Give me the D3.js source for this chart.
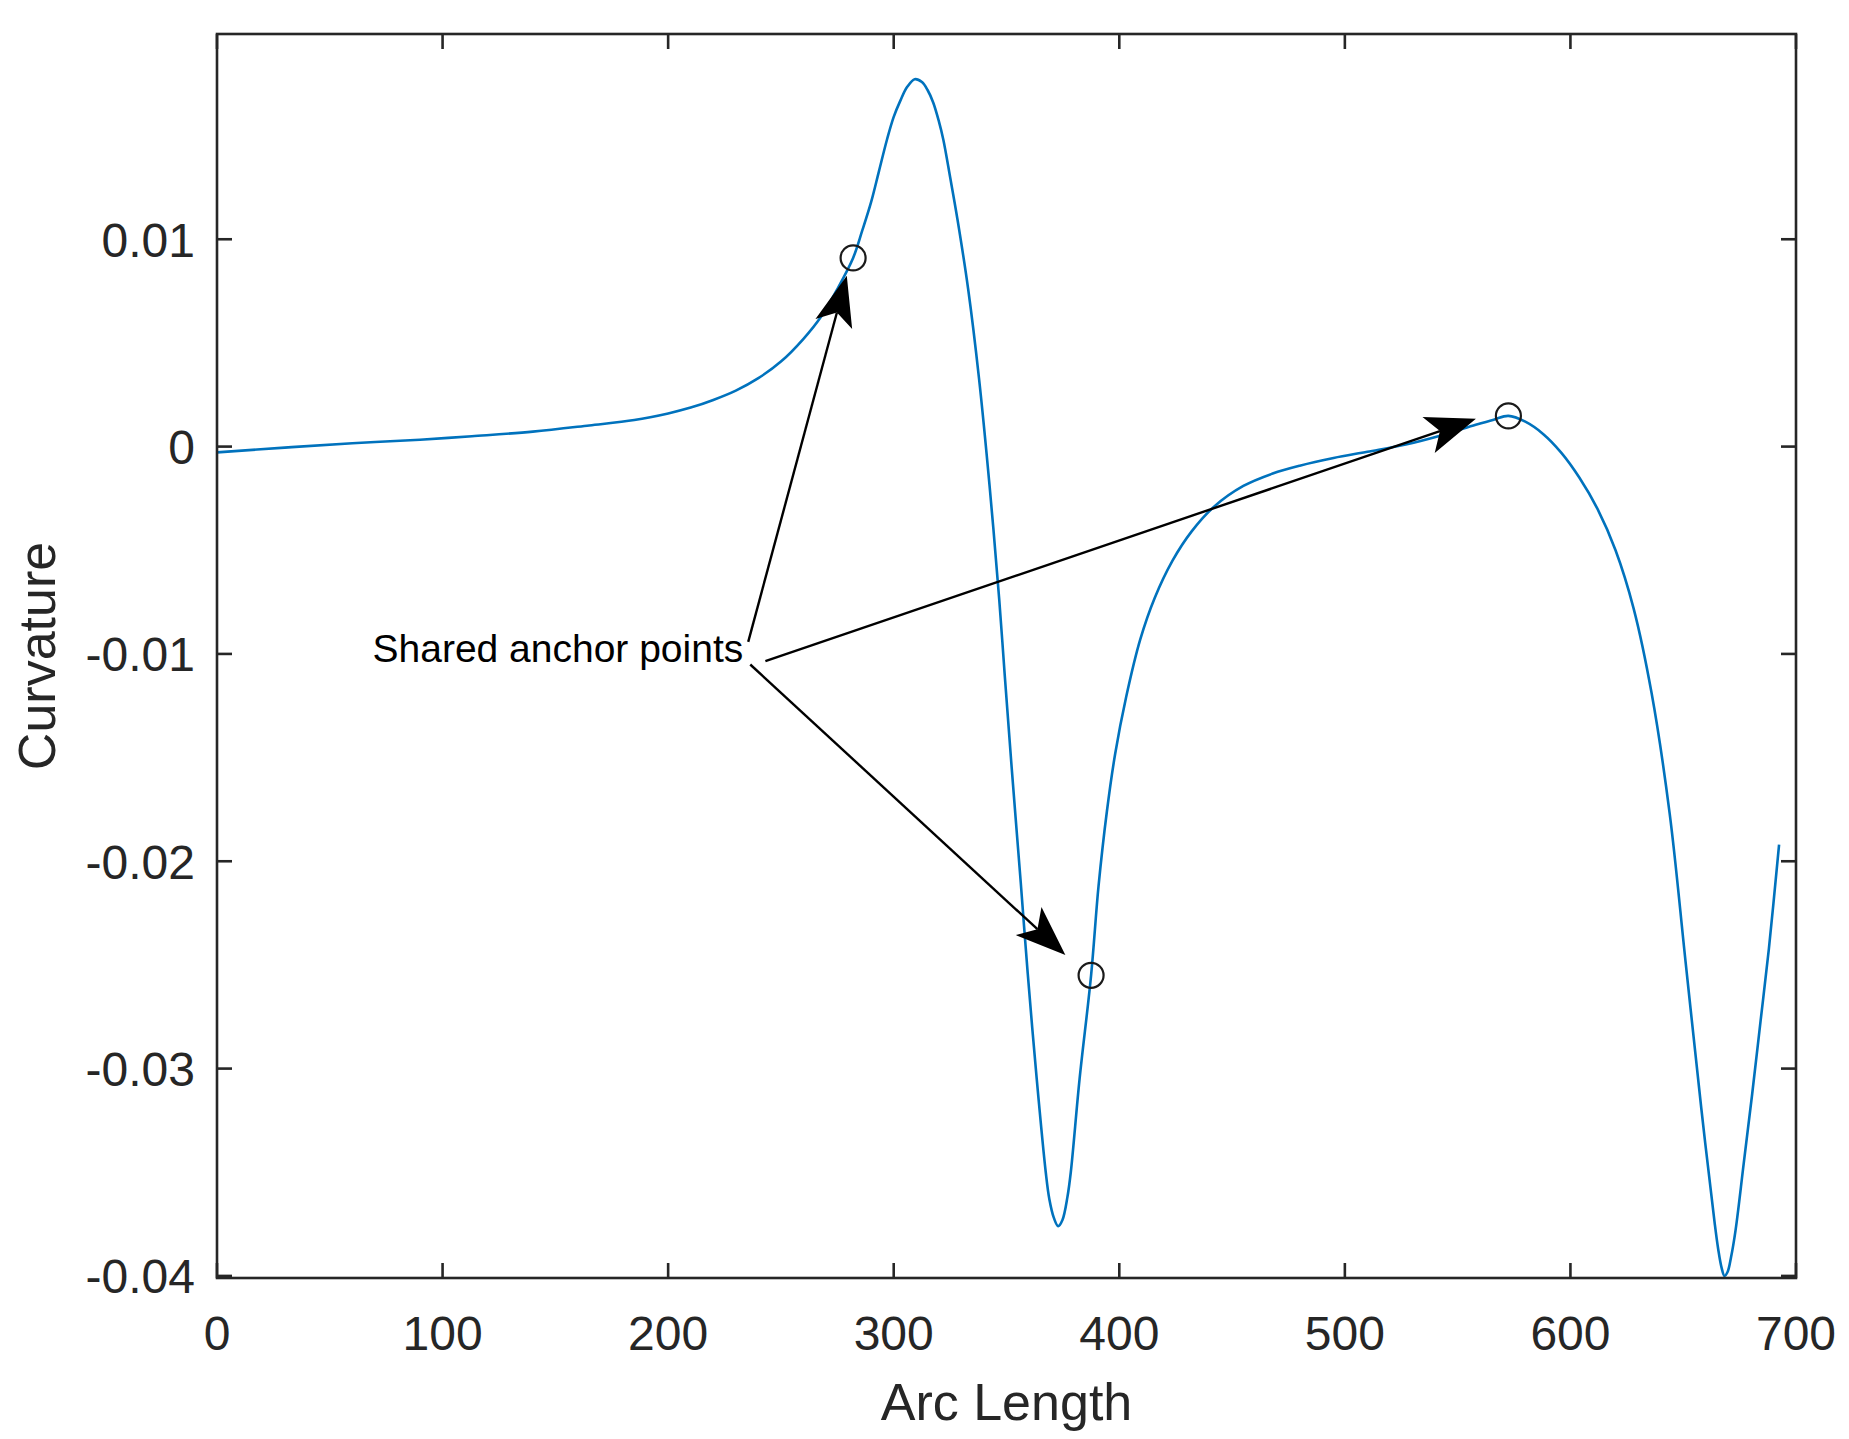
<!DOCTYPE html>
<html>
<head>
<meta charset="utf-8">
<script src="https://cdn.jsdelivr.net/npm/d3@7"></script>
<style>
  body { margin: 0; background: #fff; }
  svg { display: block; }
</style>
</head>
<body>
<svg id="chart" width="1849" height="1439"></svg>
<script>
// ---------- data ----------
const xTicks = [0, 100, 200, 300, 400, 500, 600, 700];
const xTickLabels = ["0", "100", "200", "300", "400", "500", "600", "700"];
const yTicks = [-0.04, -0.03, -0.02, -0.01, 0, 0.01];
const yTickLabels = ["-0.04", "-0.03", "-0.02", "-0.01", "0", "0.01"];

const arcLength = [0, 30, 60, 90, 113, 140, 165, 185, 200, 210, 220, 230, 240, 250, 260, 268, 275, 282, 286, 290, 293.5,
  297, 300, 303, 306, 309.3, 312.5, 315, 317.5, 320, 322, 325, 328.2, 333, 337.8, 342.5, 346.8, 349.2, 352.3, 356.3, 359.4,
  363.4, 367.4, 369, 371, 372.9, 374.8, 377, 378.5, 382.4, 387.5, 390.8, 394.5, 398.2, 403, 409.3, 415.7, 423.6, 432, 442, 455, 468, 480,
  495, 510, 527, 543, 558, 566, 572.5, 580, 588, 596, 604, 612, 620, 628, 636, 644, 651, 658, 664,
  665.5, 667, 668.3, 669.7, 671.2, 673.2, 676.8, 680.6, 684.3, 688, 692.5];
const curvature = [-0.00028, -0.00005, 0.00016, 0.00033, 0.0005, 0.00072, 0.00102, 0.00128, 0.0016, 0.00188, 0.00225, 0.0027, 0.0033, 0.0041, 0.0052, 0.0063, 0.0076, 0.0091, 0.0104, 0.0118, 0.0133,
  0.0148, 0.0159, 0.0167, 0.01735, 0.01772, 0.01758, 0.0172, 0.0166, 0.0157, 0.0148, 0.0130, 0.0110, 0.0076, 0.0033, -0.0019, -0.0074, -0.0110, -0.0155, -0.0210, -0.0254,
  -0.0305, -0.0350, -0.0363, -0.0372, -0.0376, -0.0373, -0.0362, -0.0350, -0.0305, -0.0255, -0.0212, -0.0176, -0.0148, -0.0121, -0.0093, -0.0073, -0.0055, -0.0041, -0.0029, -0.0019, -0.0013, -0.00092,
  -0.00055, -0.00025, 0.0001, 0.00055, 0.00105, 0.0013, 0.00148, 0.0012, 0.0006, -0.0003, -0.0015, -0.0030, -0.0050, -0.0078, -0.0119, -0.0177, -0.0248, -0.0319, -0.0375,
  -0.0387, -0.0396, -0.0400, -0.0398, -0.0391, -0.0378, -0.0346, -0.0312, -0.0277, -0.0242, -0.0192];

const anchorArc = [282, 387.5, 572.5];
const anchorCurv = [0.0091, -0.0255, 0.00148];

const annotationText = "Shared anchor points";
const annotationArc = 233.3;
const annotationCurv = -0.01039;
const arrowTailArc = [235.5, 243.1, 236.4];
const arrowTailCurv = [-0.00942, -0.01035, -0.01051];
const arrowTipArc = [279.2, 558.1, 376.1];
const arrowTipCurv = [0.00824, 0.00134, -0.02452];

const xTitle = "Arc Length";
const yTitle = "Curvature";

// ---------- layout ----------
const plotLeft = 217, plotRight = 1796, plotTop = 34, plotBottom = 1278;
const axisColor = "#262626";
const font = "'Liberation Sans', Arial, Helvetica, sans-serif";

const x = d3.scaleLinear().domain([0, 700]).range([plotLeft, plotRight]);
const y = d3.scaleLinear().domain([-0.0401, 0.0199]).range([plotBottom, plotTop]);

const svg = d3.select("#chart");
svg.append("rect").attr("width", 1849).attr("height", 1439).attr("fill", "#fff");

// curve
const pts = arcLength.map((s, i) => [s, curvature[i]]);
svg.append("path")
  .datum(pts)
  .attr("fill", "none")
  .attr("stroke", "#0072BD")
  .attr("stroke-width", 2.6)
  .attr("stroke-linejoin", "round")
  .attr("d", d3.line().x(d => x(d[0])).y(d => y(d[1])).curve(d3.curveCatmullRom.alpha(0.5)));

// anchor markers
svg.append("g").selectAll("circle")
  .data(anchorArc.map((s, i) => [s, anchorCurv[i]]))
  .join("circle")
  .attr("cx", d => x(d[0]))
  .attr("cy", d => y(d[1]))
  .attr("r", 12.5)
  .attr("fill", "none")
  .attr("stroke", "#1a1a1a")
  .attr("stroke-width", 2.2);

// axes box
svg.append("rect")
  .attr("x", plotLeft).attr("y", plotTop)
  .attr("width", plotRight - plotLeft).attr("height", plotBottom - plotTop)
  .attr("fill", "none").attr("stroke", axisColor).attr("stroke-width", 2.6);

const tickLen = 15;
const g = svg.append("g").attr("stroke", axisColor).attr("stroke-width", 2.6);
xTicks.forEach(t => {
  g.append("line").attr("x1", x(t)).attr("x2", x(t)).attr("y1", plotBottom).attr("y2", plotBottom - tickLen);
  g.append("line").attr("x1", x(t)).attr("x2", x(t)).attr("y1", plotTop).attr("y2", plotTop + tickLen);
});
yTicks.forEach(t => {
  g.append("line").attr("x1", plotLeft).attr("x2", plotLeft + tickLen).attr("y1", y(t)).attr("y2", y(t));
  g.append("line").attr("x1", plotRight).attr("x2", plotRight - tickLen).attr("y1", y(t)).attr("y2", y(t));
});

// tick labels
svg.append("g").selectAll("text")
  .data(xTicks.map((t, i) => [t, xTickLabels[i]]))
  .join("text")
  .attr("x", d => x(d[0]))
  .attr("y", 1350)
  .attr("text-anchor", "middle")
  .attr("font-family", font)
  .attr("font-size", 48)
  .attr("fill", axisColor)
  .text(d => d[1]);

svg.append("g").selectAll("text")
  .data(yTicks.map((t, i) => [t, yTickLabels[i]]))
  .join("text")
  .attr("x", 195)
  .attr("y", d => y(d[0]))
  .attr("dy", "0.36em")
  .attr("text-anchor", "end")
  .attr("font-family", font)
  .attr("font-size", 48)
  .attr("fill", axisColor)
  .text(d => d[1]);

// axis titles
svg.append("text")
  .attr("x", (plotLeft + plotRight) / 2)
  .attr("y", 1420)
  .attr("text-anchor", "middle")
  .attr("font-family", font)
  .attr("font-size", 52)
  .attr("fill", axisColor)
  .text(xTitle);

svg.append("text")
  .attr("transform", `translate(55, ${(plotTop + plotBottom) / 2}) rotate(-90)`)
  .attr("text-anchor", "middle")
  .attr("font-family", font)
  .attr("font-size", 52)
  .attr("fill", axisColor)
  .text(yTitle);

// annotation arrows
const ag = svg.append("g");
arrowTailArc.forEach((s, i) => {
  const x0 = x(s), y0 = y(arrowTailCurv[i]);
  const x1 = x(arrowTipArc[i]), y1 = y(arrowTipCurv[i]);
  const dx = x1 - x0, dy = y1 - y0, len = Math.hypot(dx, dy);
  const ux = dx / len, uy = dy / len, nx = -uy, ny = ux;
  const L = 50, Wd = 19, notch = 0.76 * L;
  const bx = x1 - L * ux, by = y1 - L * uy;
  const nxp = x1 - notch * ux, nyp = y1 - notch * uy;
  ag.append("line")
    .attr("x1", x0).attr("y1", y0).attr("x2", nxp).attr("y2", nyp)
    .attr("stroke", "#000").attr("stroke-width", 2.4);
  ag.append("polygon")
    .attr("points", [[x1, y1], [bx + Wd * nx, by + Wd * ny], [nxp, nyp], [bx - Wd * nx, by - Wd * ny]].map(p => p.join(",")).join(" "))
    .attr("fill", "#000");
});

svg.append("text")
  .attr("x", x(annotationArc))
  .attr("y", y(annotationCurv))
  .attr("text-anchor", "end")
  .attr("font-family", font)
  .attr("font-size", 39)
  .attr("fill", "#000")
  .text(annotationText);
</script>
</body>
</html>
